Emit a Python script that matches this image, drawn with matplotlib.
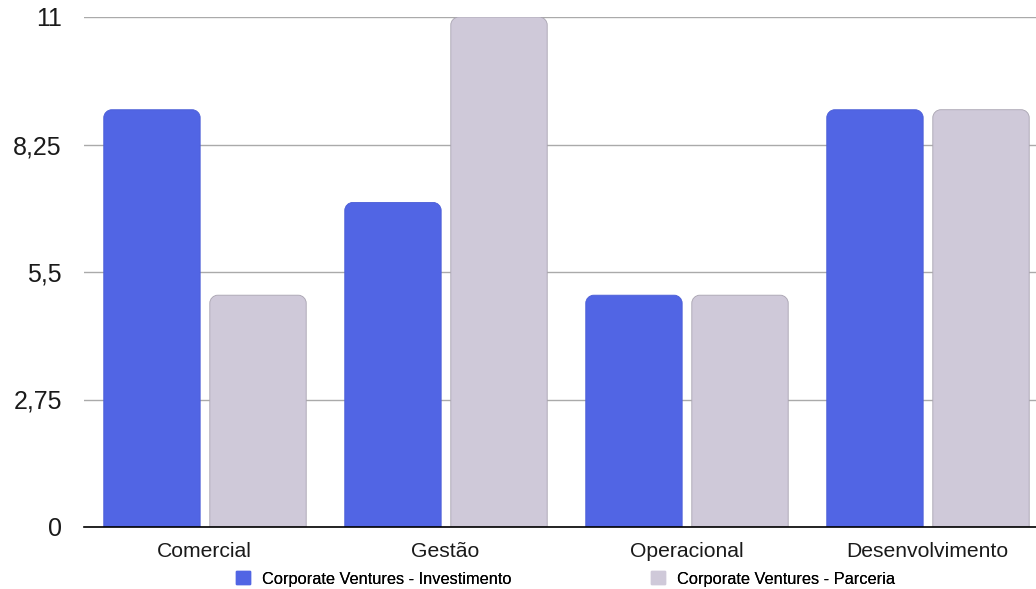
import matplotlib
matplotlib.use("Agg")
import matplotlib.pyplot as plt
import numpy as np
from matplotlib.path import Path
from matplotlib.patches import PathPatch, Patch

plt.rcParams['font.family'] = ['Liberation Sans', 'DejaVu Sans']

categories = ["Comercial", "Gestão", "Operacional", "Desenvolvimento"]
investimento = [9, 7, 5, 9]
parceria = [5, 11, 5, 9]
series_names = ["Corporate Ventures - Investimento", "Corporate Ventures - Parceria"]
yticks = [0, 2.75, 5.5, 8.25, 11]
ytick_labels = ["0", "2,75", "5,5", "8,25", "11"]

blue = "#5165E4"
gray = "#CFC9D9"

W, H = 1036, 589
fig = plt.figure(figsize=(W/100, H/100), dpi=100)
ax = fig.add_axes([84/W, 1-527/H, 1-84/W, (527-17)/H])
ax.set_xlim(-0.5, -0.5 + (W-84)/241)
ax.set_ylim(0, 11)

x = np.arange(len(categories))
bw = 0.4
b1 = ax.bar(x - 0.218, investimento, bw, color=blue)
b2 = ax.bar(x + 0.222, parceria, bw, color=gray)

# rounded tops
fig.canvas.draw()
def rounded(rect, fc, ec):
    x0, y0 = rect.get_x(), rect.get_y()
    w, h = rect.get_width(), rect.get_height()
    p0 = ax.transData.transform((x0, y0))
    p1 = ax.transData.transform((x0 + w, y0 + h))
    r = 8
    rx = r * w / (p1[0] - p0[0])
    ry = r * h / (p1[1] - p0[1])
    k = 0.55
    x1, y1 = x0 + w, y0 + h
    verts = [(x0, y0), (x0, y1 - ry),
             (x0, y1 - ry + k*ry), (x0 + rx - k*rx, y1), (x0 + rx, y1),
             (x1 - rx, y1),
             (x1 - rx + k*rx, y1), (x1, y1 - ry + k*ry), (x1, y1 - ry),
             (x1, y0), (x0, y0)]
    codes = [Path.MOVETO, Path.LINETO,
             Path.CURVE4, Path.CURVE4, Path.CURVE4,
             Path.LINETO,
             Path.CURVE4, Path.CURVE4, Path.CURVE4,
             Path.LINETO, Path.CLOSEPOLY]
    rect.set_visible(False)
    ax.add_patch(PathPatch(Path(verts, codes), facecolor=fc, edgecolor=ec,
                           linewidth=0.6, zorder=3))

for r in b1:
    rounded(r, blue, "#4a5dd6")
for r in b2:
    rounded(r, gray, "#a8a3b0")

ax.set_yticks(yticks)
ax.set_yticklabels(ytick_labels, fontsize=18, color="#1a1a1a")
ax.set_xticks(x)
ax.set_xticklabels(categories, fontsize=15.2, color="#1a1a1a")
ax.tick_params(axis='both', length=0)
ax.tick_params(axis='y', pad=16)
ax.tick_params(axis='x', pad=11)
for s in ["left", "right", "top"]:
    ax.spines[s].set_visible(False)
ax.spines["bottom"].set_color("black")
ax.spines["bottom"].set_linewidth(1.2)
ax.spines["bottom"].set_zorder(4)
ax.yaxis.grid(True, color="#aaaaaa", linewidth=1)
ax.set_axisbelow(True)

colors = [blue, gray]
anchors = [236, 651]
for name, c, ax_x in zip(series_names, colors, anchors):
    lg = fig.legend([Patch(facecolor=c, edgecolor=c)], [name], loc="center left",
                    bbox_to_anchor=(ax_x/W, 1-579/H), frameon=False, fontsize=11.8,
                    handlelength=0.85, handleheight=0.85, handletextpad=0.75,
                    borderaxespad=0, borderpad=0)
    fig.add_artist(lg)

fig.savefig("out.png", dpi=100)
